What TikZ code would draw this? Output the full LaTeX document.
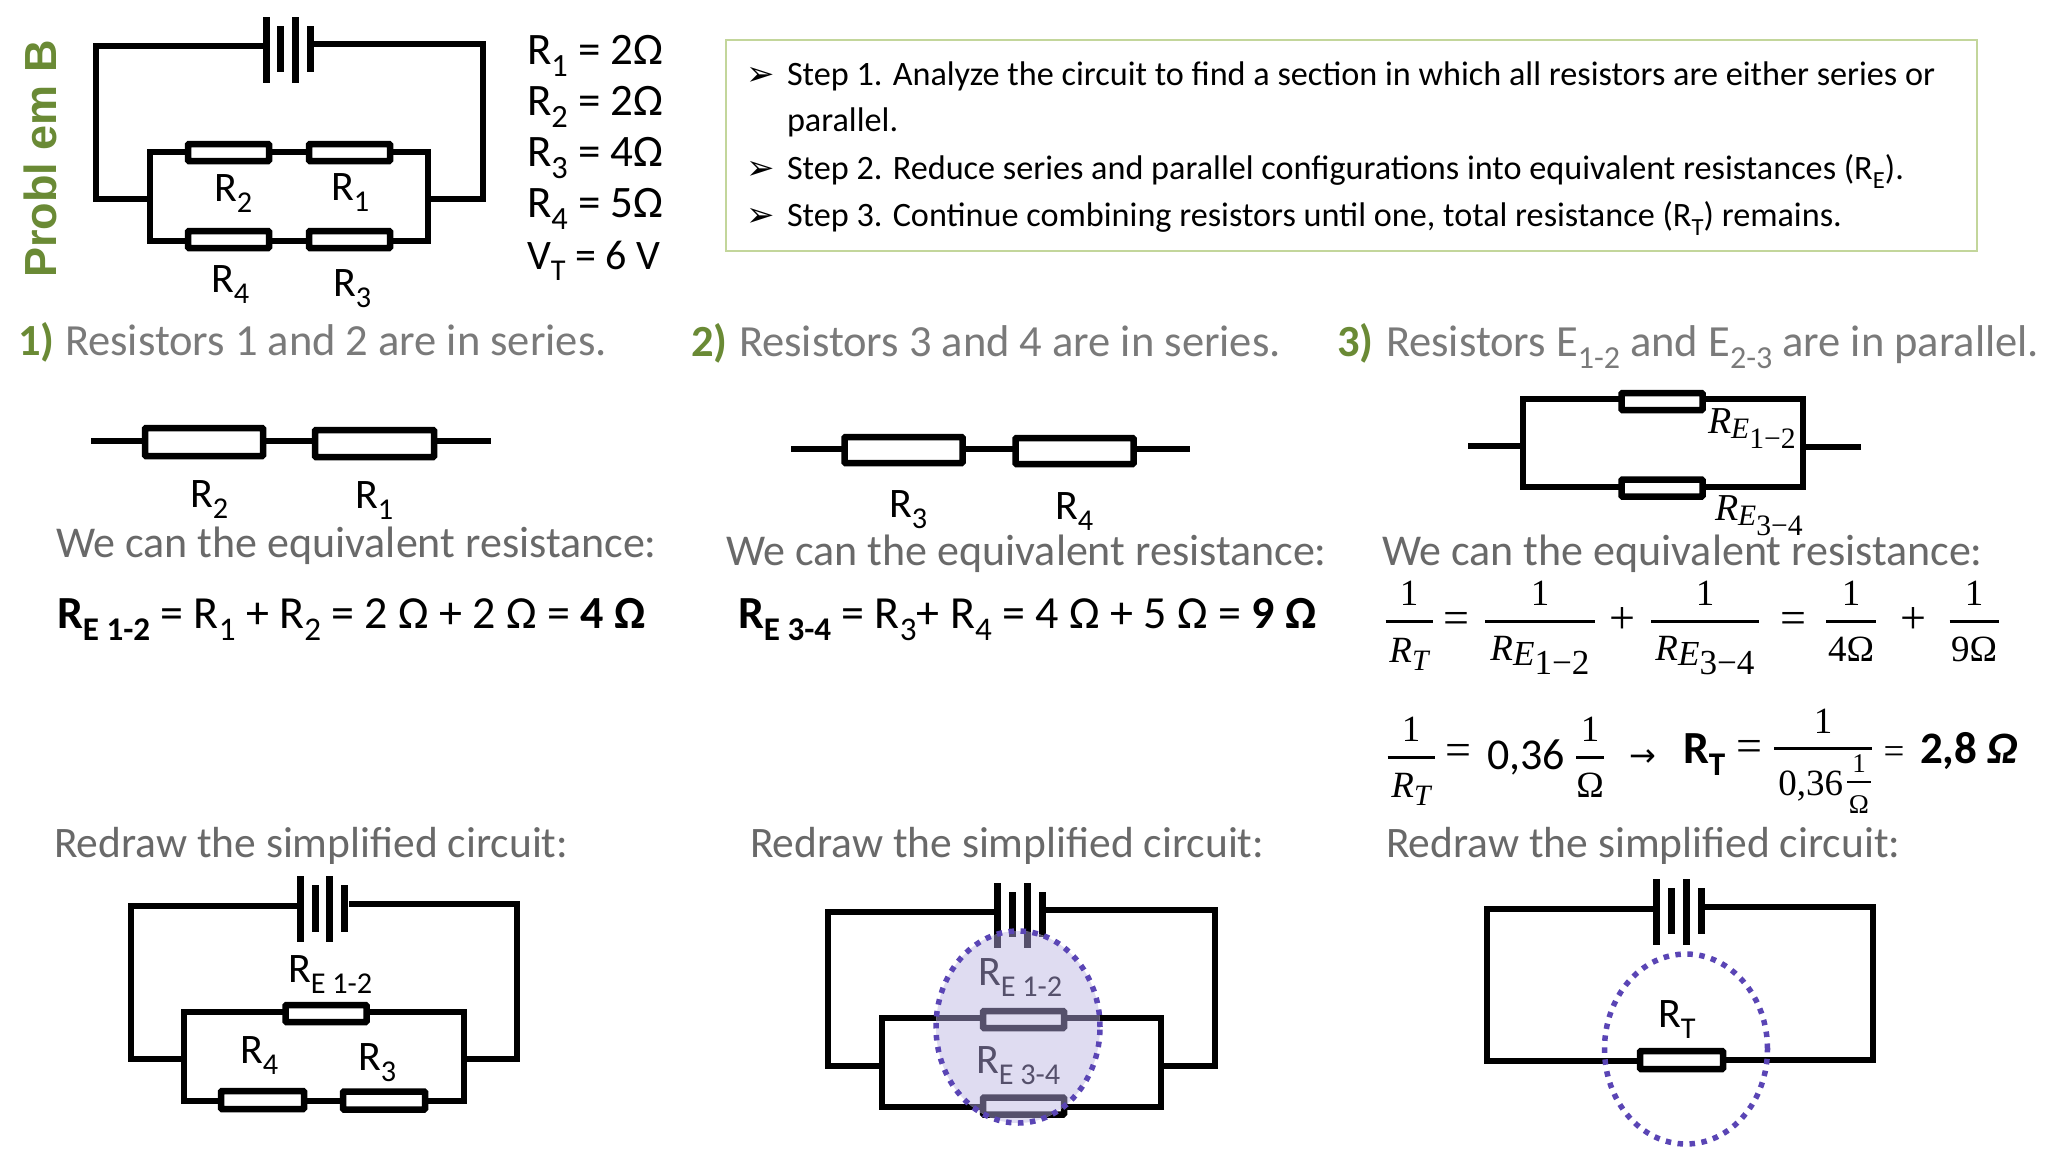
\documentclass[tikz,border=0pt]{standalone}
\usepackage{graphicx}
\usepackage{fontspec}
\setmainfont{Carlito}
\newfontfamily\djv{DejaVu Sans}
\newfontfamily\lsans{Liberation Sans}
\newfontfamily\cmb{Liberation Serif}
\usetikzlibrary{shapes.geometric}
\definecolor{grn}{HTML}{6A8A35}
\definecolor{gry}{HTML}{7A7A7A}
\definecolor{gryb}{HTML}{696969}
\definecolor{boxg}{HTML}{C3D69B}
\definecolor{pur}{HTML}{5A45B5}
\definecolor{lav}{HTML}{DFDCF1}
\definecolor{dk}{HTML}{55506B}
\newcommand\fs[1]{\fontsize{#1}{#1}\selectfont}
\newcommand\sbs[1]{\raisebox{-.28em}{\scalebox{.72}{#1}}}
\newcommand\Rb[1]{R\sbs{#1}}
\newcommand\mRT{{\itshape R}\raisebox{-.22em}{\scalebox{.8}{\itshape T}}}
\newcommand\mRE[2]{{\itshape R}\raisebox{-.15em}{\scalebox{#1}{\itshape E}}\raisebox{-.4em}{\scalebox{#1}{#2}}}
\tikzset{
 wire/.style={line width=6.5pt,line cap=rect,line join=miter},
 res/.style={draw,line width=6.5pt,rectangle,rounded corners=1pt,inner sep=0pt,outer sep=0pt,minimum width=81pt,minimum height=17pt},
 bar/.style={fill,rectangle,inner sep=0pt,outer sep=0pt,minimum width=7pt},
 txt/.style={anchor=base west,inner sep=0pt,outer sep=0pt,text=black},
 ctr/.style={anchor=base,inner sep=0pt,outer sep=0pt,text=black},
 head/.style={txt,font=\fs{44.5},text=gry},
 num/.style={txt,font=\bfseries\fs{44.5},text=grn},
 subh/.style={txt,font=\fs{44},text=gryb},
 lbl/.style={txt,font=\fs{42}},
 val/.style={txt,font=\fs{45}},
 stp/.style={txt,font=\fs{34.2}},
 eqn/.style={txt,font=\fs{46}},
 fnum/.style={ctr,font=\cmb\fs{37}},
 rel/.style={ctr,font=\cmb\fs{46}},
 fbar/.style={line width=3pt},
 oval/.style={draw=pur,line width=5.5pt,dash pattern=on 5.5pt off 6.5pt,ellipse,inner sep=0pt,outer sep=0pt},
}
% name, cx, bar y, bar width, numerator baseline, denominator baseline, numerator, denominator
\newcommand\frn[8]{%
 \node[fnum] (#1n) at (#2,#5) {#7};
 \node[fnum] (#1d) at (#2,#6) {#8};
 \coordinate (#1a) at ({#2-#4/2},#3); \coordinate (#1b) at ({#2+#4/2},#3);
 \draw[fbar] (#1a) -- (#1b);
}
% prefix, x1 x2 x3 x4, tall top/bottom, short top/bottom
\newcommand\batt[9]{%
 \node[bar,minimum height={#7-#6}] (#1b1) at (#2,{(#6+#7)/2}) {};
 \node[bar,minimum height={#9-#8}] (#1b2) at (#3,{(#8+#9)/2}) {};
 \node[bar,minimum height={#7-#6}] (#1b3) at (#4,{(#6+#7)/2}) {};
 \node[bar,minimum height={#9-#8}] (#1b4) at (#5,{(#8+#9)/2}) {};
}
\newcommand\circB[1]{%
 \begin{scope}[draw=#1,fill=#1,text=#1]
 \batt{c}{997}{1012}{1027}{1042}{883}{948}{892}{937}
 \node[res,draw=#1] (cra) at (1023.5,1019.5) {};
 \node[res,draw=#1] (crb) at (1023.5,1106) {};
 \coordinate (cl1) at (828,912); \coordinate (cl2) at (828,1066);
 \coordinate (cr0) at (1049,910); \coordinate (cr1) at (1215,910); \coordinate (cr2) at (1215,1066);
 \coordinate (cil) at (882,1066); \coordinate (cilt) at (882,1018); \coordinate (cilb) at (882,1107);
 \coordinate (cir) at (1161,1066); \coordinate (cirt) at (1161,1018); \coordinate (cirb) at (1161,1107);
 \draw[wire] (cb1 |- cl1) -- (cl1) -- (cl2) -- (cil);
 \draw[wire] (cr0) -- (cr1) -- (cr2) -- (cir);
 \draw[wire] (cra.west |- cilt) -- (cilt) -- (cilb) -- (crb.west |- cilb);
 \draw[wire] (cra.east |- cirt) -- (cirt) -- (cirb) -- (crb.east |- cirb);
 \end{scope}
}
\begin{document}
\begin{tikzpicture}[x=1pt,y=-1pt]
\path[use as bounding box,fill=white] (0,0) rectangle (2048,1152);

% Title
\node[anchor=base west,inner sep=0pt,rotate=90,font=\lsans\bfseries\fs{45},text=grn] (title) at (56,278) {Probl em B};

% top circuit
\batt{t}{266}{280}{295}{310}{17}{83}{26}{72}
\coordinate (tl1) at (96,46); \coordinate (tl2) at (96,199);
\coordinate (tr0) at (317,44); \coordinate (trr1) at (483,44); \coordinate (trr2) at (483,199);
\coordinate (til) at (150,199); \coordinate (tilt) at (150,152); \coordinate (tilb) at (150,241);
\coordinate (tir) at (428,199); \coordinate (tirt) at (428,152); \coordinate (tirb) at (428,241);
\coordinate (tr2c) at (228.5,152.5); \coordinate (tr1c) at (349.5,152.5);
\coordinate (tr4c) at (228.5,239.5); \coordinate (tr3c) at (349.5,239.5);
\draw[wire] (tb1 |- tl1) -- (tl1) -- (tl2) -- (til);
\draw[wire] (tr0) -- (trr1) -- (trr2) -- (tir);
\draw[wire] (tr2c |- tilt) -- (tilt) -- (tilb) -- (tr4c |- tilb);
\draw[wire] (tr1c |- tirt) -- (tirt) -- (tirb) -- (tr3c |- tirb);
\draw[wire] (tr2c |- tilt) -- (tr1c |- tirt);
\draw[wire] (tr4c |- tilb) -- (tr3c |- tirb);
\node[res,fill=white] (tr2) at (tr2c) {};
\node[res,fill=white] (tr1) at (tr1c) {};
\node[res,fill=white] (tr4) at (tr4c) {};
\node[res,fill=white] (tr3) at (tr3c) {};
\node[lbl] (tl_r2) at (214,201) {\Rb{2}};
\node[lbl] (tl_r1) at (331,200) {\Rb{1}};
\node[lbl] (tl_r4) at (211,292) {\Rb{4}};
\node[lbl] (tl_r3) at (333,296) {\Rb{3}};
\node[val] (v1) at (527,64) {\Rb{1} = 2Ω};
\node[val] (v2) at (527,115) {\Rb{2} = 2Ω};
\node[val] (v3) at (527,166) {\Rb{3} = 4Ω};
\node[val] (v4) at (527,217) {\Rb{4} = 5Ω};
\node[val,font=\fs{42}] (v5) at (527,269) {V\sbs{T} = 6 V};

% Steps box
\node[draw=boxg,line width=1.5pt,rectangle,inner sep=0pt,minimum width=1251pt,minimum height=211pt,anchor=north west] (box) at (725,39) {};
\node[stp,font=\djv\fs{34}] (a1) at (746,85) {➢};
\node[stp,font=\djv\fs{34}] (a2) at (746,179) {➢};
\node[stp,font=\djv\fs{34}] (a3) at (746,226) {➢};
\node[stp] (s1) at (787,85) {Step 1. Analyze the circuit to find a section in which all resistors are either series or};
\node[stp] (s1b) at (787,131) {parallel.};
\node[stp] (s2) at (787,179) {Step 2. Reduce series and parallel configurations into equivalent resistances (R\sbs{E}).};
\node[stp] (s3) at (787,226) {Step 3. Continue combining resistors until one, total resistance (R\sbs{T}) remains.};

% headings
\node[num] (n1) at (18,355) {1)};
\node[head] (h1) at (65,355) {Resistors 1 and 2 are in series.};
\node[num] (n2) at (691,356) {2)};
\node[head] (h2) at (739,356) {Resistors 3 and 4 are in series.};
\node[num] (n3) at (1337,356) {3)};
\node[head] (h3) at (1386,356) {Resistors E\sbs{1-2} and E\sbs{2-3} are in parallel.};

% series 1
\coordinate (m1a) at (91,441); \coordinate (m1b) at (491,441);
\coordinate (m1r2c) at (204,442); \coordinate (m1r1c) at (374.5,443.5);
\draw[wire,line cap=butt] (m1a) -- (m1r2c |- m1a) -- (m1r1c |- m1a) -- (m1b);
\node[res,fill=white,minimum width=118pt,minimum height=28pt] (m1r2) at (m1r2c) {};
\node[res,fill=white,minimum width=119pt,minimum height=27pt] (m1r1) at (m1r1c) {};
\node[lbl] (m1l2) at (190,507) {\Rb{2}};
\node[lbl] (m1l1) at (355,508) {\Rb{1}};

% series 2
\coordinate (m2a) at (791,449); \coordinate (m2b) at (1190,449);
\coordinate (m2r3c) at (903.5,450); \coordinate (m2r4c) at (1074.5,451);
\draw[wire,line cap=butt] (m2a) -- (m2r3c |- m2a) -- (m2r4c |- m2a) -- (m2b);
\node[res,fill=white,minimum width=118pt,minimum height=26pt] (m2r3) at (m2r3c) {};
\node[res,fill=white,minimum width=118pt,minimum height=26pt] (m2r4) at (m2r4c) {};
\node[lbl] (m2l3) at (889,517) {\Rb{3}};
\node[lbl] (m2l4) at (1055,519) {\Rb{4}};

% parallel 3
\coordinate (m3a) at (1471,446); \coordinate (m3b) at (1523,446);
\coordinate (m3c) at (1858,447); \coordinate (m3d) at (1803,447);
\coordinate (m3lt) at (1523,399); \coordinate (m3lb) at (1523,487);
\coordinate (m3rt) at (1803,399); \coordinate (m3rb) at (1803,487);
\coordinate (m3r1c) at (1662,401.5); \coordinate (m3r2c) at (1662,488);
\draw[wire] (m3a) -- (m3b);
\draw[wire] (m3d) -- (m3c);
\draw[wire] (m3r1c |- m3lt) -- (m3lt) -- (m3lb) -- (m3r2c |- m3lb);
\draw[wire] (m3r1c |- m3rt) -- (m3rt) -- (m3rb) -- (m3r2c |- m3rb);
\node[res,fill=white] (m3r1) at (m3r1c) {};
\node[res,fill=white] (m3r2) at (m3r2c) {};
\node[txt,font=\cmb\fs{38}] (m3l1) at (1708,433) {\mRE{.78}{1−2}};
\node[txt,font=\cmb\fs{38}] (m3l2) at (1715,520) {\mRE{.78}{3−4}};

% We can
\node[subh] (w1) at (56,557) {We can the equivalent resistance:};
\node[subh] (w2) at (726,565) {We can the equivalent resistance:};
\node[subh] (w3) at (1382,565) {We can the equivalent resistance:};

% equations
\node[eqn] (e1) at (57,628) {\textbf{R\sbs{E 1-2}} = R\sbs{1} + R\sbs{2} = 2 Ω + 2 Ω = \textbf{4 Ω}};
\node[eqn] (e2) at (738,628) {\textbf{R\sbs{E 3-4}} = R\sbs{3}+ R\sbs{4} = 4 Ω + 5 Ω = \textbf{9 Ω}};

% fractions row 1
\frn{fa}{1409}{621}{47}{605}{662}{1}{\mRT}
\node[rel] (f1e) at (1456,633) {=};
\frn{fb}{1540}{621}{110}{605}{660}{1}{\mRE{.95}{1−2}}
\node[rel] (f2p) at (1622,633) {+};
\frn{fc}{1705}{621}{108}{605}{660}{1}{\mRE{.95}{3−4}}
\node[rel] (f3e) at (1793,633) {=};
\frn{fd}{1851}{621}{50}{605}{661}{1}{4Ω}
\node[rel] (f4p) at (1913,633) {+};
\frn{fe}{1974}{621}{49}{605}{661}{1}{9Ω}
% fractions row 2
\frn{ga}{1411}{757}{47}{741}{797}{1}{\mRT}
\node[rel] (g1e) at (1458,765) {=};
\node[eqn,font=\fs{44}] (g2) at (1487,769) {0,36};
\frn{gb}{1590}{757}{28}{741}{797}{1}{Ω}
\node[ctr,font=\djv\fs{32}] (g4) at (1643,766) {→};
\node[eqn] (g5) at (1683,763) {\textbf{R\sbs{T}}};
\node[rel] (g5e) at (1749,761) {=};
\node[fnum] (gcn) at (1823,733) {1};
\coordinate (gca) at (1774,748); \coordinate (gcb) at (1872,748);
\draw[fbar] (gca) -- (gcb);
\node[fnum,anchor=base east] (gcd) at (1843,795) {0,36};
\node[fnum,font=\cmb\fs{27}] (gdn) at (1859,772) {1};
\coordinate (gda) at (1847,782); \coordinate (gdb) at (1871,782);
\draw[fbar,line width=2.5pt] (gda) -- (gdb);
\node[fnum,font=\cmb\fs{27}] (gdd) at (1859,813) {Ω};
\node[rel,font=\cmb\fs{37}] (g6e) at (1894,763) {=};
\node[eqn,font=\fs{45}] (g7) at (1920,763) {\textbf{2,8 \textit{Ω}}};

% Redraw
\node[subh,font=\fs{43.5}] (r1) at (54,857) {Redraw the simplified circuit:};
\node[subh,font=\fs{43.5}] (r2) at (750,857) {Redraw the simplified circuit:};
\node[subh,font=\fs{43.5}] (r3) at (1386,857) {Redraw the simplified circuit:};

% bottom circuit 1
\batt{a}{300}{315}{329}{344}{876}{942}{885}{932}
\coordinate (ar1c) at (326,1013.5); \coordinate (ar4c) at (262.5,1100); \coordinate (ar3c) at (384,1100.5);
\coordinate (al1) at (131,906); \coordinate (al2) at (131,1059);
\coordinate (ar0) at (352,904); \coordinate (arr1) at (517,904); \coordinate (arr2) at (517,1059);
\coordinate (ail) at (184,1059); \coordinate (ailt) at (184,1012); \coordinate (ailb) at (184,1101);
\coordinate (air) at (464,1059); \coordinate (airt) at (464,1012); \coordinate (airb) at (464,1101);
\draw[wire] (ab1 |- al1) -- (al1) -- (al2) -- (ail);
\draw[wire] (ar0) -- (arr1) -- (arr2) -- (air);
\draw[wire] (ar1c |- ailt) -- (ailt) -- (ailb) -- (ar4c |- ailb);
\draw[wire] (ar1c |- airt) -- (airt) -- (airb) -- (ar3c |- airb);
\draw[wire] (ar4c |- ailb) -- (ar3c |- airb);
\node[res,fill=white] (ar1) at (ar1c) {};
\node[res,fill=white,minimum width=83pt,minimum height=18pt] (ar4) at (ar4c) {};
\node[res,fill=white,minimum width=82pt,minimum height=18pt] (ar3) at (ar3c) {};
\node[lbl] (al_1) at (288,982) {R\sbs{E 1-2}};
\node[lbl] (al_4) at (240,1063) {\Rb{4}};
\node[lbl] (al_3) at (358,1070) {\Rb{3}};

% bottom circuit 2
\circB{black}
\fill[lav] (1018,1027) ellipse [x radius=82pt,y radius=96pt];
\begin{scope}
\clip (1018,1027) ellipse [x radius=82pt,y radius=96pt];
\circB{dk}
\end{scope}
\node[lbl,text=dk] (cl_1) at (978,985) {R\sbs{E 1-2}};
\node[lbl,text=dk] (cl_2) at (976,1073) {R\sbs{E 3-4}};
\node[oval,minimum width=164pt,minimum height=192pt] (co) at (1018,1027) {};

% bottom circuit 3
\batt{d}{1656}{1671}{1686}{1701}{879}{945}{888}{934}
\coordinate (drc) at (1681.5,1060);
\coordinate (dl1) at (1487,909); \coordinate (dl2) at (1487,1061);
\coordinate (dr0) at (1708,907); \coordinate (dr1) at (1873,907); \coordinate (dr2) at (1873,1060);
\draw[wire] (db1 |- dl1) -- (dl1) -- (dl2) -- (drc |- dl2);
\draw[wire] (dr0) -- (dr1) -- (dr2) -- (drc);
\node[res,fill=white,minimum width=83pt,minimum height=18pt] (dr) at (drc) {};
\node[lbl] (dl_t) at (1658,1027) {R\sbs{T}};
\node[oval,minimum width=163pt,minimum height=190pt] (do) at (1686,1049) {};
\end{tikzpicture}
\end{document}
